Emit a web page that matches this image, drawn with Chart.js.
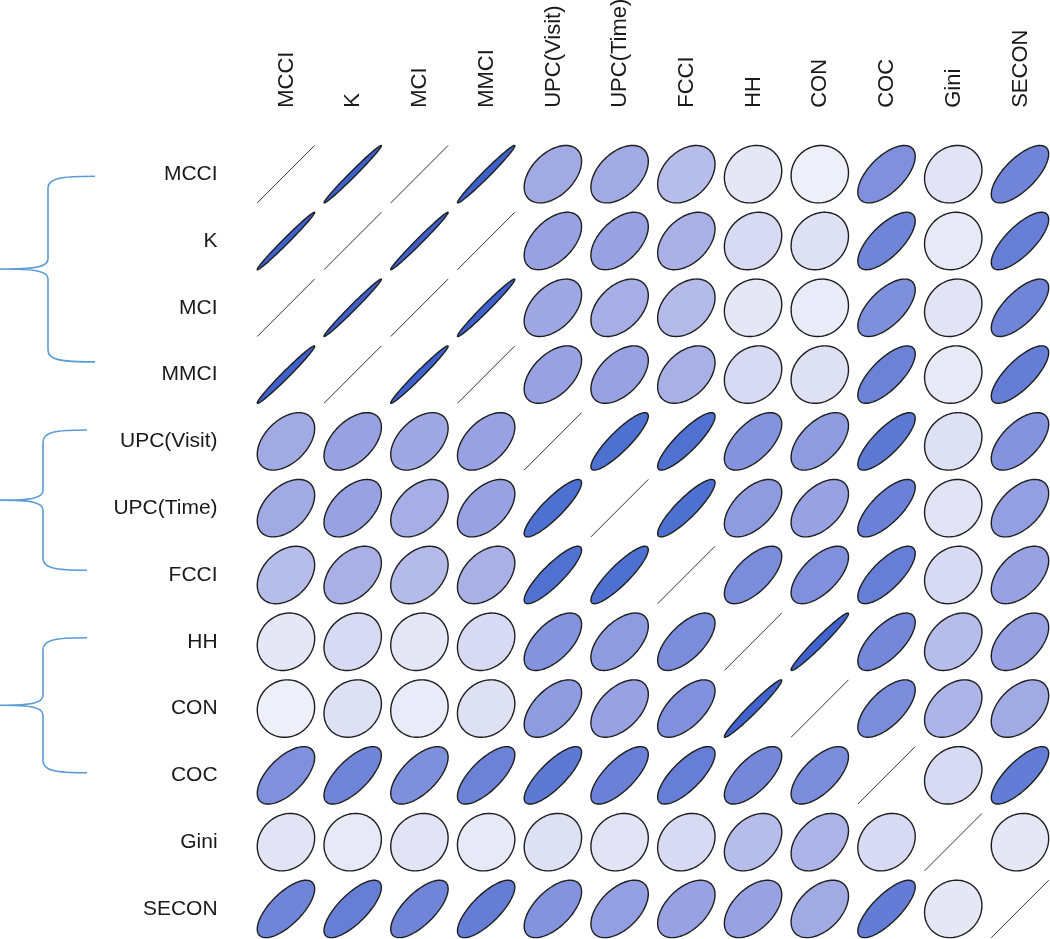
<!DOCTYPE html>
<html>
<head>
<meta charset="utf-8">
<script src="https://cdn.jsdelivr.net/npm/chart.js@4.4.1/dist/chart.umd.min.js"></script>
<style>
  html, body { margin: 0; padding: 0; background: #ffffff; }
  #wrap { width: 1050px; height: 939px; }
</style>
</head>
<body>
<div id="wrap"><canvas id="myChart" width="1050" height="939"></canvas></div>
<script>
// Variables of the matrix (rows and columns share the same order)
const variables = ['MCCI', 'K', 'MCI', 'MMCI', 'UPC(Visit)', 'UPC(Time)', 'FCCI', 'HH', 'CON', 'COC', 'Gini', 'SECON'];

// Correlations, one row per variable
const corrMCCI  = [1.000, 0.990, 0.999, 0.985, 0.45, 0.45, 0.35, 0.12, 0.05, 0.62, 0.15, 0.70];
const corrK     = [0.990, 1.000, 0.990, 0.999, 0.50, 0.50, 0.42, 0.20, 0.17, 0.70, 0.10, 0.75];
const corrMCI   = [0.999, 0.990, 1.000, 0.985, 0.46, 0.43, 0.36, 0.12, 0.08, 0.63, 0.15, 0.70];
const corrMMCI  = [0.985, 0.999, 0.985, 1.000, 0.50, 0.50, 0.42, 0.20, 0.17, 0.72, 0.10, 0.76];
const corrUPCV  = [0.45, 0.50, 0.46, 0.50, 1.000, 0.88, 0.87, 0.60, 0.55, 0.80, 0.17, 0.60];
const corrUPCT  = [0.45, 0.50, 0.43, 0.50, 0.88, 1.000, 0.88, 0.55, 0.50, 0.73, 0.15, 0.52];
const corrFCCI  = [0.35, 0.42, 0.36, 0.42, 0.87, 0.88, 1.000, 0.65, 0.62, 0.75, 0.20, 0.50];
const corrHH    = [0.12, 0.20, 0.12, 0.20, 0.60, 0.55, 0.65, 1.000, 0.975, 0.68, 0.35, 0.50];
const corrCON   = [0.05, 0.17, 0.08, 0.17, 0.55, 0.50, 0.62, 0.975, 1.000, 0.65, 0.40, 0.45];
const corrCOC   = [0.62, 0.70, 0.63, 0.72, 0.80, 0.73, 0.75, 0.68, 0.65, 1.000, 0.20, 0.77];
const corrGini  = [0.15, 0.10, 0.15, 0.10, 0.17, 0.15, 0.20, 0.35, 0.40, 0.20, 1.000, 0.12];
const corrSECON = [0.70, 0.75, 0.70, 0.76, 0.60, 0.52, 0.50, 0.50, 0.45, 0.77, 0.12, 1.000];

// Groups marked with a brace on the left (row positions)
const groupStart = [0.03, 3.83, 6.94];
const groupEnd   = [2.81, 5.93, 8.96];

const corrRows = [corrMCCI, corrK, corrMCI, corrMMCI, corrUPCV, corrUPCT, corrFCCI, corrHH, corrCON, corrCOC, corrGini, corrSECON];

// one point per cell, x = column, y = row
const cells = [];
corrRows.forEach((row, i) => {
    row.forEach((r, j) => cells.push({ x: j, y: i, r: r }));
});

// colour ramp: pale lavender for r ~ 0 up to royal blue for r ~ 1
const rampStops = [
    [0.00, [244, 244, 251]],
    [0.15, [226, 228, 245]],
    [0.45, [162, 170, 228]],
    [0.70, [112, 132, 216]],
    [0.88, [78, 112, 208]],
    [1.00, [60, 95, 205]]
];
function corrColor(r) {
    for (let k = 1; k < rampStops.length; k++) {
        if (r <= rampStops[k][0]) {
            const a = rampStops[k - 1], b = rampStops[k];
            const t = (r - a[0]) / (b[0] - a[0]);
            const c = a[1].map((v, n) => Math.round(v + (b[1][n] - v) * t));
            return 'rgb(' + c.join(',') + ')';
        }
    }
    return 'rgb(60,95,205)';
}

// draws the ellipse of each cell (same shape as ellipse(r, t = 0.43))
const ellipsePlugin = {
    id: 'ellipses',
    afterDatasetsDraw(chart) {
        const ctx = chart.ctx;
        const xs = chart.scales.x, ys = chart.scales.y;
        const cw = xs.getPixelForValue(1) - xs.getPixelForValue(0);
        const ch = ys.getPixelForValue(1) - ys.getPixelForValue(0);
        const meta = chart.getDatasetMeta(0);
        ctx.save();
        meta.data.forEach((pt, k) => {
            const r = cells[k].r;
            const cx = pt.x, cy = pt.y;
            ctx.beginPath();
            if (r >= 0.998) {
                ctx.moveTo(cx - 0.43 * cw, cy + 0.43 * ch);
                ctx.lineTo(cx + 0.43 * cw, cy - 0.43 * ch);
                ctx.lineWidth = 1;
                ctx.strokeStyle = '#333333';
                ctx.stroke();
                return;
            }
            const d = Math.acos(r);
            for (let n = 0; n <= 120; n++) {
                const th = n / 120 * 2 * Math.PI;
                const ex = 0.43 * Math.cos(th + d / 2);
                const ey = 0.43 * Math.cos(th - d / 2);
                const px = cx + ex * cw, py = cy - ey * ch;
                if (n === 0) ctx.moveTo(px, py); else ctx.lineTo(px, py);
            }
            ctx.closePath();
            ctx.fillStyle = corrColor(r);
            ctx.fill();
            ctx.lineWidth = 1.4;
            ctx.strokeStyle = '#1e1e1e';
            ctx.stroke();
        });
        ctx.restore();
    }
};

// the blue braces on the left
const bracePlugin = {
    id: 'braces',
    afterDraw(chart) {
        const ctx = chart.ctx;
        const ys = chart.scales.y;
        const braceX = [48, 43, 43];
        const armX = [95, 87, 87];
        ctx.save();
        ctx.strokeStyle = '#5b9bd5';
        ctx.lineWidth = 1.6;
        groupStart.forEach((g, k) => {
            const top = ys.getPixelForValue(g);
            const bot = ys.getPixelForValue(groupEnd[k]);
            const mid = (top + bot) / 2;
            const xv = braceX[k], xa = armX[k];
            ctx.beginPath();
            ctx.moveTo(xa, top);
            ctx.bezierCurveTo(xv + 12, top, xv, top + 2, xv, top + 12);
            ctx.lineTo(xv, mid - 10);
            ctx.bezierCurveTo(xv, mid - 2, xv - 12, mid, 0, mid);
            ctx.moveTo(0, mid);
            ctx.bezierCurveTo(xv - 12, mid, xv, mid + 2, xv, mid + 10);
            ctx.lineTo(xv, bot - 12);
            ctx.bezierCurveTo(xv, bot - 2, xv + 12, bot, xa, bot);
            ctx.stroke();
        });
        ctx.restore();
    }
};

const fontFamily = "'Liberation Sans', Arial, sans-serif";
const integerTicks = s => { s.ticks = variables.map((_, i) => ({ value: i })); };

const myChart = new Chart(document.getElementById('myChart').getContext('2d'), {
    type: 'scatter',
    data: {
        datasets: [{
            data: cells,
            pointRadius: 0,
            pointHoverRadius: 0
        }]
    },
    options: {
        responsive: false,
        animation: false,
        events: [],
        layout: { padding: 0 },
        plugins: { legend: { display: false }, tooltip: { enabled: false } },
        scales: {
            x: {
                type: 'linear',
                position: 'top',
                min: -0.5,
                max: 11.45,
                grid: { display: false, drawTicks: false },
                border: { display: false },
                afterBuildTicks: integerTicks,
                afterFit: s => { s.height = 140.8; s.paddingLeft = 0; s.paddingRight = 0; },
                ticks: {
                    autoSkip: false,
                    minRotation: 90,
                    maxRotation: 90,
                    padding: 33,
                    labelOffset: 27,
                    color: '#1a1a1a',
                    font: { family: fontFamily, size: 22 },
                    callback: v => variables[v]
                }
            },
            y: {
                type: 'linear',
                position: 'left',
                reverse: true,
                min: -0.5,
                max: 11.45,
                grid: { display: false, drawTicks: false },
                border: { display: false },
                afterBuildTicks: integerTicks,
                afterFit: s => { s.width = 252.6; s.paddingTop = 0; s.paddingBottom = 0; },
                ticks: {
                    autoSkip: false,
                    padding: 35,
                    color: '#1a1a1a',
                    font: { family: fontFamily, size: 21 },
                    callback: v => variables[v]
                }
            }
        }
    },
    plugins: [ellipsePlugin, bracePlugin]
});
</script>
</body>
</html>
